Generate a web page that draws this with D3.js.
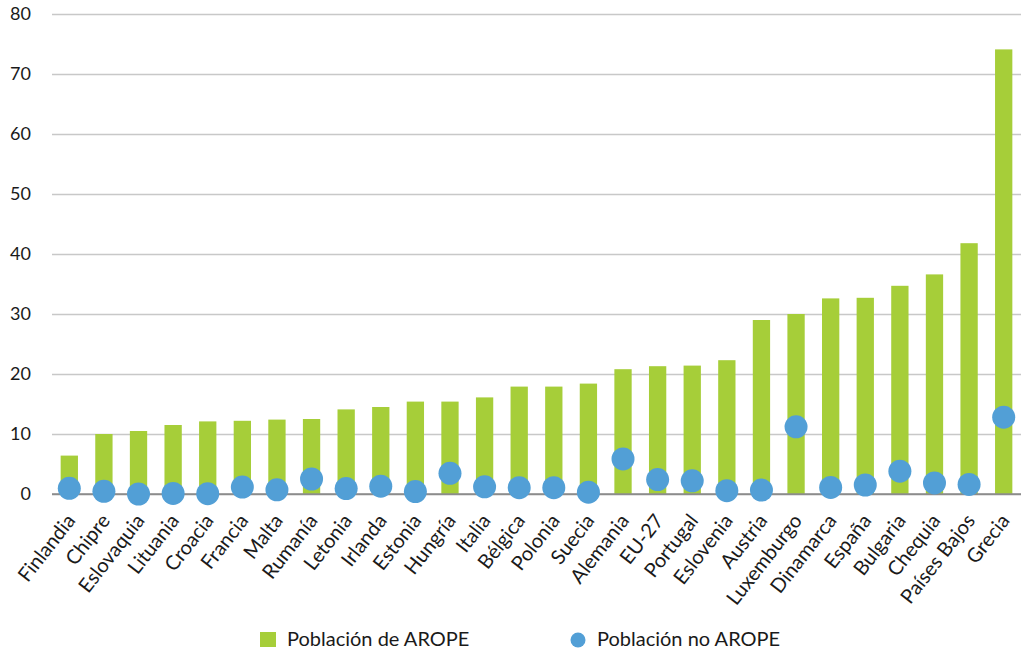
<!DOCTYPE html>
<html><head><meta charset="utf-8">
<script src="https://cdn.jsdelivr.net/npm/d3@7"></script>
<style>body{margin:0;background:#fff}svg{display:block}text{font-family:Lato,"Noto Sans",sans-serif;fill:#1a1a1a}</style>
</head><body><svg id="c" width="1021" height="651"></svg>
<script>
const categories=["Finlandia","Chipre","Eslovaquia","Lituania","Croacia","Francia","Malta","Rumanía","Letonia","Irlanda","Estonia","Hungría","Italia","Bélgica","Polonia","Suecia","Alemania","EU-27","Portugal","Eslovenia","Austria","Luxemburgo","Dinamarca","España","Bulgaria","Chequia","Países Bajos","Grecia"];
const aropeValues=[6.4,10.0,10.5,11.5,12.1,12.2,12.4,12.5,14.1,14.5,15.4,15.4,16.1,17.9,17.9,18.4,20.8,21.3,21.4,22.3,29.0,30.0,32.6,32.7,34.7,36.6,41.8,74.1];
const noAropeValues=[0.95,0.45,0.0,0.1,0.05,1.15,0.7,2.5,0.9,1.3,0.4,3.45,1.2,1.05,1.05,0.3,5.85,2.4,2.2,0.55,0.65,11.2,1.1,1.5,3.8,1.85,1.6,12.8];
const yTicks=[0,10,20,30,40,50,60,70,80];
const seriesNames=["Población de AROPE","Población no AROPE"];

const green="#A6CE39", blue="#529FD6";
const svg=d3.select("#c");
const m={l:52,r:0,t:14,b:157};
const W=1021,H=651;
const x=d3.scaleBand().domain(categories).range([m.l,W-m.r]).paddingInner(0.5).paddingOuter(0.25);
const y=d3.scaleLinear().domain([0,80]).range([H-m.b,m.t]);

// grid
const ga=svg.append("g").attr("transform",`translate(${m.l},0)`)
 .call(d3.axisLeft(y).tickValues(yTicks).tickSize(-(W-m.l-m.r)).tickPadding(21));
ga.select(".domain").remove();
ga.selectAll(".tick line").attr("stroke",d=>d===0?"#8c8c8c":"#c8c8c8").attr("stroke-width",1.3);
ga.selectAll(".tick text").style("font-size","18px").attr("fill","#1a1a1a");

// bars
svg.append("g").selectAll("rect").data(categories).join("rect")
 .attr("x",d=>x(d)).attr("width",x.bandwidth())
 .attr("y",(d,i)=>y(aropeValues[i])).attr("height",(d,i)=>y(0)-y(aropeValues[i]))
 .attr("fill",green);
// zero line on top of bars
svg.append("line").attr("x1",m.l).attr("x2",W-m.r).attr("y1",y(0)).attr("y2",y(0)).attr("stroke","#8c8c8c").attr("stroke-width",1.3);
// dots
svg.append("g").selectAll("circle").data(categories).join("circle")
 .attr("cx",d=>x(d)+x.bandwidth()/2).attr("cy",(d,i)=>y(noAropeValues[i])).attr("r",11.5)
 .attr("fill",blue);

// x labels
const gx=svg.append("g").attr("transform",`translate(0,${y(0)})`)
 .call(d3.axisBottom(x).tickSize(0).tickPadding(0));
gx.select(".domain").remove();
gx.selectAll(".tick text").attr("text-anchor","end").attr("dy","0")
 .attr("y",0).attr("transform","translate(7,27) rotate(-52)").style("font-size","20px");

// legend
const lg=svg.append("g");
lg.append("rect").attr("x",260).attr("y",632).attr("width",16).attr("height",15).attr("fill",green);
lg.append("text").attr("x",287).attr("y",646).text(seriesNames[0]).style("font-size","20px");
lg.append("circle").attr("cx",578).attr("cy",640).attr("r",7.5).attr("fill",blue);
lg.append("text").attr("x",597).attr("y",646).text(seriesNames[1]).style("font-size","20px");
</script></body></html>
